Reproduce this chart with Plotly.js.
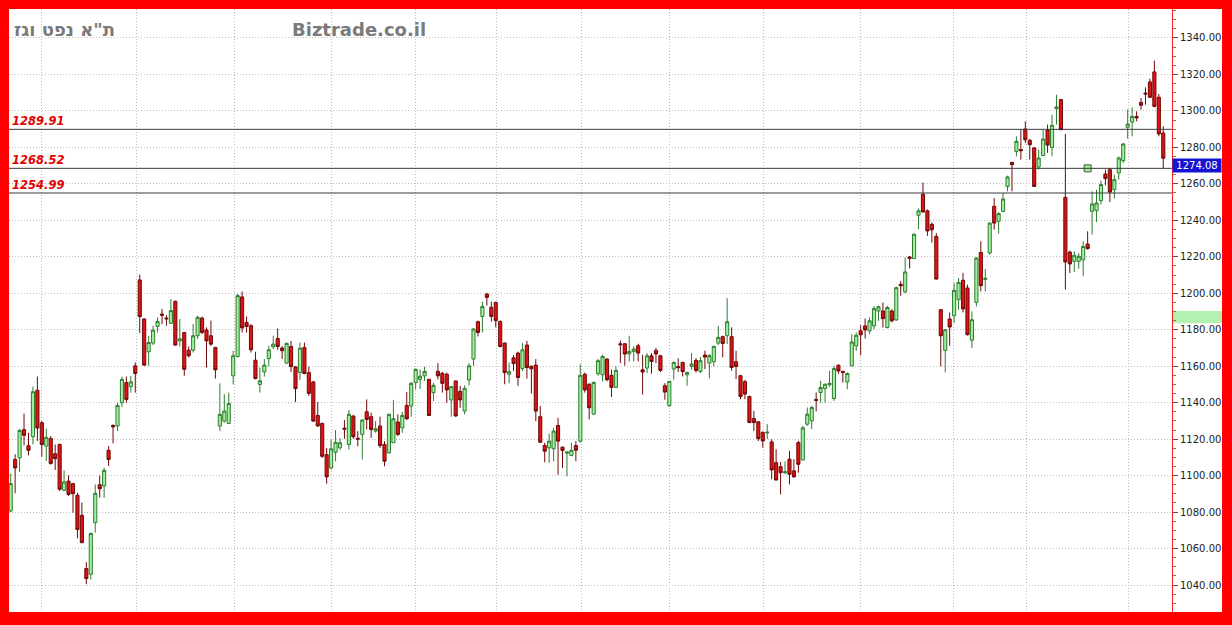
<!DOCTYPE html>
<html>
<head>
<meta charset="utf-8">
<script src="https://cdn.plot.ly/plotly-3.0.1.min.js"></script>
<style>
  html, body { margin: 0; padding: 0; background: #ff0000; width: 1232px; height: 625px; overflow: hidden; }
  #chart { position: absolute; left: 9px; top: 9px; width: 1213px; height: 603px; background: #ffffff; }
</style>
</head>
<body>
<div id="chart"></div>
<script>
// ---- data ----
const chartTitle = 'ת"א נפט וגז';
const watermark = 'Biztrade.co.il';

const openPrices = [
1080.6,1108.9,1109.7,1125.2,1116.4,1121.4,1146.8,1129,1116.2,1120.4,
1112,1117.1,1091.9,1097,1095.6,1089.2,1078.2,1049,1045.9,1074.2,
1095,1094.3,1113.9,1127.5,1127.2,1140,1151,1148.8,1160.2,1207.3,
1185.9,1167.9,1172.7,1181.8,1188.6,1186.4,1183.5,1195.6,1173.9,1178.5,
1168.8,1168.8,1176.7,1186.4,1179.8,1176.7,1170.3,1127.2,1129.9,1128.6,
1154.7,1165.3,1198,1184,1182.2,1163.3,1150,1156.9,1164.2,1170.6,
1175.2,1170,1161.7,1170.8,1159.6,1156.5,1170.3,1156.5,1151.4,1133,
1128.6,1111.5,1104.2,1112.8,1115.3,1126,1117.1,1132.7,1120.5,1122.6,
1135,1132.3,1124.4,1127.2,1117.1,1112.5,1118,1129.4,1126.2,1138.5,
1138.2,1151,1152.8,1154.7,1152.8,1145.5,1157.2,1156.1,1155.6,1141.5,
1151.9,1146.2,1135.4,1152.5,1163.9,1184.4,1187.3,1199.6,1192.3,1195,
1184.6,1172.7,1155.6,1164.6,1167.2,1158.7,1171.6,1160,1160.6,1132.3,
1116.5,1115.2,1114.7,1127.5,1115.6,1112.3,1111,1116.5,1118.9,1155.6,
1150.1,1133.7,1155.9,1155.3,1163.9,1155,1148.4,1172.3,1172.3,1166.7,
1168,1171.2,1158,1159,1165.7,1168.7,1165.7,1149.3,1138.3,1158.4,
1159.8,1162.1,1155.3,1159.9,1163.2,1157.1,1166.1,1161.7,1162.5,1172.7,
1176.2,1176.7,1176.2,1162.5,1154.8,1151.5,1143.4,1131.3,1129.5,1123.6,
1123.4,1118.5,1107.1,1104.9,1101.5,1109,1102.6,1118.1,1108.6,1128.2,
1130,1141.8,1145.6,1147.8,1149.8,1142.3,1160.5,1157.2,1151.4,1160.2,
1171.2,1179.4,1182.1,1179.4,1182.1,1190.3,1190.3,1181.2,1190.3,1185.4,
1204.9,1200.8,1219.9,1219,1242.8,1254.3,1245.2,1237.8,1231.2,1191,
1168.7,1185.9,1187.7,1196.5,1207.1,1202.9,1174.2,1195,1222.4,1207.6,
1222.1,1247.7,1239.5,1244.9,1258.6,1271.8,1277.8,1278.8,1290.1,1283.9,
1279.7,1269.3,1275.5,1289.5,1280,1301.2,1306.2,1252.6,1222.6,1217.5,
1217.5,1218.4,1227,1245,1245.3,1250.8,1265.4,1267.8,1256.8,1266,
1272.7,1291,1293.9,1297,1304.7,1309.8,1315.9,1321.4,1307.5,1287.9
];

const highPrices = [
1101.2,1111.7,1125.4,1134,1123.5,1148.8,1154.3,1130,1125.7,1121.7,
1117.1,1117.5,1102.9,1100.1,1096,1090.6,1085.2,1052.6,1068.7,1095.2,
1100.1,1104.3,1116.2,1128.1,1140,1154.3,1154.3,1154.7,1162,1210.3,
1186.2,1176.7,1182.2,1186.8,1191.4,1188,1196.9,1196,1185.9,1178.8,
1170.8,1183.1,1187.7,1187.2,1181.3,1185,1170.6,1150.6,1144.6,1145.5,
1168.4,1199.6,1201,1187.3,1183.1,1167.9,1159.3,1163.9,1171.2,1176.7,
1180.7,1171,1173,1173.9,1160,1173,1173,1159.8,1152,1140.4,
1129,1115.2,1119.8,1125,1120.5,1130.5,1136,1133,1124.4,1130.8,
1141.8,1134.5,1129.9,1132.3,1118.9,1134,1141.5,1133.6,1134.9,1145.9,
1151.4,1158.7,1158.3,1159.8,1153,1151,1161.7,1156.9,1156.5,1149.2,
1152,1149.2,1149.5,1161.7,1180.8,1185,1195.4,1200.2,1195.4,1195.4,
1185,1173,1162,1166.1,1168,1172.7,1173.9,1160.3,1163.9,1138.2,
1118,1123.1,1126.2,1131.7,1116,1113.2,1118,1118.9,1161.1,1156.5,
1150.7,1151.6,1163.9,1166.3,1164.4,1158.1,1159.9,1174.1,1172.7,1176.7,
1170.9,1172.3,1166.3,1167.2,1167.2,1169.9,1166.2,1150.7,1151.7,1162.6,
1164.3,1162.3,1157,1167.2,1164.5,1165,1168.5,1166.7,1171.2,1182.2,
1176.8,1197.3,1181.3,1168.5,1155.2,1152.5,1143.8,1135.5,1129.6,1124.4,
1128.2,1120,1114.5,1107.5,1107.8,1113.6,1109,1119,1127.3,1137.4,
1138.3,1145.6,1152,1150.5,1157.4,1160.2,1161,1157.4,1156.6,1177.6,
1178.5,1182.5,1186.1,1186.7,1193.1,1193.3,1194.9,1193.1,1191.2,1203.7,
1206.8,1219.6,1220.5,1232.8,1246.5,1260.7,1246,1239,1233,1191.3,
1180.4,1189.5,1205.6,1208.4,1211.1,1204.7,1190.1,1219.9,1228.5,1213.3,
1238.9,1252.3,1244.5,1255,1264.5,1272,1286.1,1289.7,1294.3,1284.6,
1280.2,1278.8,1289.7,1292.5,1297.9,1308.9,1306.5,1287.4,1223.4,1223,
1222,1228.5,1234,1255.9,1256.8,1261.8,1267.8,1268.5,1265,1275.1,
1282.4,1300.7,1302,1299.8,1307.1,1312.9,1317.7,1327.6,1309.3,1291.6
];

const lowPrices = [
1080,1090.3,1102,1116.6,1111.1,1117.1,1119,1110.4,1108,1106,
1103.1,1091.6,1091.6,1088.8,1079.7,1065.6,1063,1040.4,1043,1068.7,
1087.9,1087.9,1105.3,1117.7,1124.5,1137.6,1140,1145.5,1145.5,1178.2,
1160.2,1160.2,1171.6,1178.5,1183.1,1182.2,1183.1,1171.2,1170.8,1154.7,
1164.8,1167.5,1174.9,1177.6,1159.3,1171.2,1153.2,1124.4,1129,1128.2,
1150.1,1164.8,1178.5,1178.5,1167.5,1152.8,1145.5,1154.3,1159.8,1169.4,
1169,1164,1161.3,1156.9,1140.4,1152.5,1155.6,1143.7,1129.4,1127,
1109.7,1095.6,1103.3,1107.9,1114,1120.2,1114.3,1120.2,1116.1,1108.8,
1125.3,1120.7,1123.5,1115.2,1105.1,1112.1,1118,1121.7,1123.5,1130.5,
1132.3,1147.3,1147.5,1151.9,1132.7,1140.9,1152.8,1145.5,1140,1132.3,
1132.3,1137.2,1133.6,1149.5,1160.2,1176.3,1178.5,1193.2,1184.4,1181.3,
1170.3,1150.1,1150.6,1157.4,1149.2,1157.4,1153.2,1145,1129.9,1117.9,
1107.3,1107,1107.9,1100.5,1104.2,1099.6,1110.6,1107.9,1118,1145.5,
1130.8,1133.4,1154.8,1151.7,1151.7,1143.1,1148,1161.7,1160.3,1162.6,
1162.6,1162.6,1144.4,1156.2,1155.9,1161.7,1156.8,1141.6,1137.6,1152.6,
1156.8,1154.4,1149.3,1158.1,1156.5,1156.2,1158.4,1153.3,1159.9,1171.6,
1164.8,1172.2,1157.5,1152.9,1141.9,1141.9,1128.8,1124.5,1119,1115.4,
1120,1098,1097.3,1089.7,1100.8,1095.2,1099,1101.6,1108.3,1127.3,
1125.5,1135.2,1140,1140,1148.8,1141,1155.8,1151,1147.4,1159.8,
1168.4,1166,1175.2,1177.6,1180.3,1184.9,1181.2,1180.7,1184,1184.9,
1198.6,1200,1213.6,1218.8,1235.1,1244.2,1231.5,1227.8,1207.5,1159.9,
1156.6,1171.2,1183.7,1191,1189.5,1176.8,1170,1192.8,1201,1201,
1221.2,1234.9,1232.7,1244.4,1255.9,1255.9,1275.1,1273.3,1282.4,1273.3,
1258.3,1267.8,1275.2,1277,1275.1,1292.5,1289.5,1202,1211.1,1211.7,
1213.5,1209.3,1223.9,1232.2,1239.1,1248.6,1259.2,1250,1251.9,1262.3,
1271.4,1284.8,1286.1,1294.3,1300.7,1303.4,1307,1302,1286.1,1268.3
];

const closePrices = [
1095.6,1104.2,1124.8,1122.1,1113.9,1146,1126.1,1117,1121,1106.7,
1109.3,1092.5,1096.5,1089.7,1090.1,1070.5,1063.2,1043.5,1068.3,1090.3,
1092.8,1102.9,1108.9,1126.7,1138.5,1152.8,1141.8,1151.4,1156,1187.2,
1160.6,1173,1179.8,1184.6,1188,1186,1190.5,1171.6,1175,1158.3,
1165.7,1176.7,1186.8,1178.5,1173.9,1172.1,1158,1133.6,1135.4,1139.6,
1165.7,1198.7,1181,1181.8,1169,1153.2,1152,1160.6,1169,1172.1,
1170.8,1168.5,1172.5,1159.8,1147.7,1169.9,1156,1145.1,1129.9,1127.2,
1110.6,1099.3,1114.7,1118.3,1118,1125.5,1133.6,1121.3,1120,1130.5,
1130.8,1125.3,1125.7,1116.5,1107.9,1133.6,1131.2,1122.6,1133,1131.2,
1150.6,1158.3,1154.5,1157.1,1133,1149.5,1154.7,1150.6,1147,1148.8,
1132.7,1141.5,1147.9,1160.2,1180.4,1178.5,1192.8,1197.8,1187.3,1185,
1170.8,1156.5,1157,1161.5,1153.8,1169,1159.3,1158.6,1135.4,1118.3,
1113.4,1118.9,1124.4,1118.9,1113.8,1113,1113.9,1113.9,1155,1147,
1137.2,1151.1,1163,1165.4,1152.6,1148.4,1157.7,1171.8,1166.7,1168.1,
1169.4,1167.2,1156.8,1165.7,1162.6,1166.7,1157.7,1145.8,1151.7,1162.1,
1159.2,1157.1,1156.6,1161.2,1157.7,1163,1165,1165.8,1170.9,1175.8,
1172.5,1184.4,1159.3,1159.9,1143.4,1144.7,1129.1,1129.1,1120.3,1119,
1123.8,1103.1,1097.6,1101.6,1102.1,1100.7,1099.3,1106.2,1126.2,1133.7,
1137.4,1141.2,1148.3,1150.1,1150.6,1158.7,1157.4,1156.6,1156,1173.3,
1177,1177.2,1179.9,1184.9,1191.6,1192.6,1186.1,1192.2,1184.9,1203.1,
1204.1,1211.7,1219.1,1232.4,1245.2,1244.6,1234.2,1234.8,1207.8,1176.7,
1180,1181.5,1201.6,1206,1191.4,1177.3,1185.5,1219.3,1204.2,1208.2,
1238.5,1238.5,1243.7,1251.7,1263.8,1270.5,1283.3,1278.2,1284.2,1281.5,
1258.6,1274.2,1284.6,1281.3,1292.1,1302.2,1289.7,1217.2,1216.1,1220.8,
1220.3,1225.7,1224.5,1249,1249.5,1259.6,1262.9,1255.5,1262.3,1274.2,
1281.9,1292.8,1297,1296.2,1303.1,1309.3,1307.5,1302.5,1287.4,1274.08
];

// session positions where a new month starts (vertical grid lines)
const monthStarts = [7, 28.2, 50.2, 72.2, 90.9, 109.1, 128.2, 148, 169.1, 190.9, 211.8, 228.2, 251.1];
// price tick labels on the right
const priceTicks = [1040,1060,1080,1100,1120,1140,1160,1180,1200,1220,1240,1260,1280,1300,1320,1340];
// horizontal support / resistance levels
const levelValues = [1289.91, 1268.52, 1254.99];
// last price
const lastPrice = 1274.08;
// anchor marker drawn on the chart
const anchorX = [242];
const anchorY = [1268.52];
// highlighted band on the price axis
const axisBand = [1183.5, 1190.3];

// ---- build ----
const sessions = openPrices.map((_, i) => i);

const candles = {
  type: 'candlestick',
  x: sessions,
  open: openPrices,
  high: highPrices,
  low: lowPrices,
  close: closePrices,
  increasing: { line: { color: '#2f7d2f', width: 1 }, fillcolor: '#9ef09e' },
  decreasing: { line: { color: '#700808', width: 1 }, fillcolor: '#dc1414' },
  whiskerwidth: 0,
  hoverinfo: 'skip',
  showlegend: false
};

const anchor = {
  type: 'scatter', mode: 'markers',
  x: anchorX, y: anchorY,
  marker: { symbol: 'square', size: 7, color: '#a8e8a0', line: { color: '#3c5c3c', width: 1 } },
  hoverinfo: 'skip', showlegend: false
};

const shapes = levelValues.map(v => ({
  type: 'line', xref: 'paper', x0: 0, x1: 1, yref: 'y', y0: v, y1: v,
  line: { color: '#3a3a3a', width: 1 }
}));
shapes.push({
  type: 'rect', xref: 'paper', x0: 1, x1: 1 + 50 / 1163, yref: 'y', y0: axisBand[0], y1: axisBand[1],
  fillcolor: '#b4f0b0', line: { width: 0 }, layer: 'below'
});

const annotations = levelValues.map(v => ({
  xref: 'paper', x: 0.0005, xanchor: 'left', yref: 'y', y: v, yanchor: 'bottom', yshift: -1,
  text: '<b><i>' + v.toFixed(2) + '</i></b>', showarrow: false,
  font: { family: 'DejaVu Sans', size: 11.5, color: '#e00000' }
}));
annotations.push({
  xref: 'paper', x: 1, xanchor: 'left', yref: 'y', y: lastPrice, yanchor: 'top',
  text: lastPrice.toFixed(2), showarrow: false, bgcolor: '#1414d2', borderpad: 1, width: 46,
  font: { family: 'DejaVu Sans', size: 10, color: '#ffffff' }
});
annotations.push({
  xref: 'paper', x: 0.0026, xanchor: 'left', yref: 'paper', y: 0.966, yanchor: 'middle',
  text: '<b>' + chartTitle + '</b>', showarrow: false,
  font: { family: 'DejaVu Sans', size: 18, color: '#7a7a7a' }
});
annotations.push({
  xref: 'paper', x: 0.2416, xanchor: 'left', yref: 'paper', y: 0.966, yanchor: 'middle',
  text: '<b>' + watermark + '</b>', showarrow: false,
  font: { family: 'DejaVu Sans', size: 18, color: '#7a7a7a' }
});

const layout = {
  width: 1213, height: 603,
  margin: { l: 0, r: 50, t: 0, b: 0, pad: 0 },
  paper_bgcolor: '#ffffff', plot_bgcolor: '#ffffff',
  boxgap: 0.3, boxgroupgap: 0,
  xaxis: {
    range: [-0.38, 260.96], fixedrange: true,
    rangeslider: { visible: false },
    tickmode: 'array', tickvals: monthStarts, showticklabels: false, ticks: '',
    showgrid: true, gridcolor: '#bdbdbd', griddash: '1px,2px', gridwidth: 1,
    zeroline: false, showline: true, linecolor: '#777777', linewidth: 1
  },
  yaxis: {
    side: 'right', range: [1025.2, 1355.9], fixedrange: true,
    tickmode: 'array', tickvals: priceTicks, ticktext: priceTicks.map(v => v.toFixed(2)),
    ticks: 'outside', ticklen: 5, tickcolor: '#555555',
    minor: { dtick: 5, ticks: 'outside', ticklen: 3, tickcolor: '#777777', showgrid: false },
    tickfont: { family: 'DejaVu Sans', size: 10, color: '#222222' },
    showgrid: true, gridcolor: '#bdbdbd', griddash: '1px,2px', gridwidth: 1,
    zeroline: false, showline: true, linecolor: '#ff2020', linewidth: 1
  },
  shapes: shapes,
  annotations: annotations,
  showlegend: false
};

Plotly.newPlot('chart', [candles, anchor], layout, { staticPlot: true, displayModeBar: false });
</script>
</body>
</html>
